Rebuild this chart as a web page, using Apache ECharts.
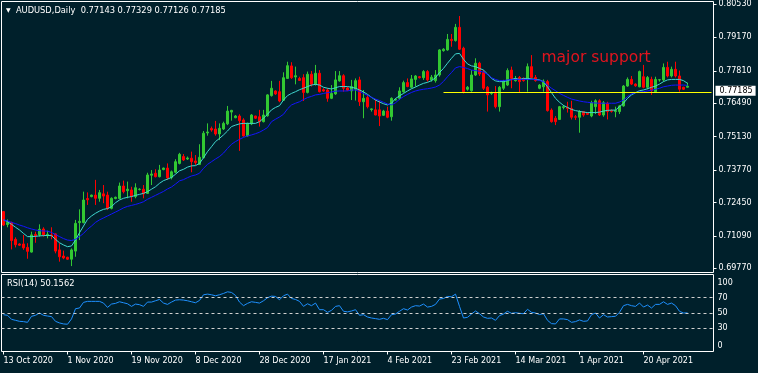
<!DOCTYPE html>
<html>
<head>
<meta charset="utf-8">
<script src="https://cdn.jsdelivr.net/npm/echarts@6/dist/echarts.min.js"></script>
<style>
html,body{margin:0;padding:0;background:#00202b;}
#chart{width:758px;height:373px;}
</style>
</head>
<body>
<div id="chart"></div>
<script>
// ---------- data ----------
const symbolName = 'AUDUSD,Daily';
const tickLabels = ['13 Oct 2020','1 Nov 2020','19 Nov 2020','8 Dec 2020','28 Dec 2020','17 Jan 2021','4 Feb 2021','23 Feb 2021','14 Mar 2021','1 Apr 2021','20 Apr 2021'];
const priceTicks = [0.80530,0.79170,0.77810,0.76490,0.75130,0.73770,0.72450,0.71090,0.69770];
const rsiTicks = [100,70,50,30,0];
const rsiLevels = [70,50,30];
const supportLevel = 0.7695;
const supportStartIndex = 110;
const annotation = {text:'major support', index:134, price:0.7833};
const closedDays = ['2020-12-25','2021-01-01'];
const firstDay = '2020-10-13';
const categoryCount = 178;

const opens = [.7208,.7155,.7163,.7095,.7076,.7076,.7062,.7043,.7115,.7113,
.7137,.7110,.7113,.7117,.7052,.7027,.7022,.7014,.7047,.7163,
.7163,.7261,.7269,.7275,.7262,.7280,.7275,.7221,.7261,.7261,
.7312,.7293,.7296,.7269,.7298,.7299,.7282,.7356,.7364,.7350,
.7379,.7385,.7347,.7368,.7404,.7432,.7422,.7425,.7414,.7400,
.7427,.7528,.7546,.7544,.7524,.7544,.7565,.7613,.7590,.7597,
.7581,.7516,.7565,.7597,.7594,.7574,.7598,.7680,.7699,.7696,
.7661,.7750,.7801,.7756,.7750,.7753,.7693,.7767,.7726,.7771,
.7704,.7703,.7669,.7687,.7740,.7761,.7711,.7699,.7706,.7744,
.7655,.7672,.7623,.7622,.7622,.7600,.7617,.7594,.7662,.7669,
.7696,.7733,.7714,.7746,.7757,.7753,.7778,.7744,.7741,.7764,
.7863,.7866,.7909,.7904,.7958,.7873,.7706,.7700,.7764,.7812,
.7774,.7714,.7689,.7689,.7635,.7710,.7723,.7784,.7741,.7754,
.7750,.7746,.7798,.7754,.7710,.7716,.7737,.7621,.7588,.7583,
.7632,.7632,.7628,.7594,.7592,.7615,.7608,.7597,.7635,.7659,
.7601,.7649,.7619,.7615,.7615,.7638,.7719,.7746,.7727,.7716,
.7757,.7714,.7746,.7696,.7744,.7744,.7795,.7760,.7787,.7760,
.7714,.77143];
const highs = [.7210,.7176,.7167,.7103,.7079,.7113,.7079,.7126,.7126,.7156,
.7144,.7130,.7144,.7119,.7079,.7049,.7024,.7058,.7174,.7217,
.7289,.7286,.7277,.7337,.7296,.7316,.7289,.7266,.7269,.7326,
.7334,.7330,.7309,.7323,.7303,.7316,.7366,.7377,.7380,.7398,
.7387,.7404,.7375,.7421,.7447,.7442,.7432,.7452,.7438,.7482,
.7536,.7567,.7554,.7577,.7567,.7574,.7638,.7622,.7601,.7604,
.7588,.7570,.7605,.7598,.7622,.7622,.7686,.7740,.7702,.7740,
.7775,.7818,.7816,.7798,.7757,.7767,.7778,.7780,.7805,.7784,
.7710,.7710,.7723,.7780,.7780,.7767,.7715,.7744,.7750,.7757,
.7703,.7683,.7628,.7665,.7660,.7622,.7635,.7673,.7669,.7714,
.7741,.7750,.7764,.7764,.7760,.7784,.7784,.7764,.7784,.7869,
.7873,.7931,.7931,.7972,.8004,.7879,.7719,.7784,.7832,.7818,
.7784,.7719,.7696,.7719,.7719,.7744,.7791,.7798,.7760,.7760,
.7754,.7811,.7845,.7764,.7727,.7746,.7744,.7628,.7597,.7638,
.7642,.7655,.7659,.7601,.7621,.7615,.7611,.7659,.7665,.7665,
.7658,.7655,.7624,.7635,.7642,.7723,.7754,.7760,.7730,.7782,
.7805,.7760,.7757,.7757,.7746,.7811,.7818,.7798,.7818,.7782,
.7716,.77329];
const lows = [.7149,.7144,.7054,.7062,.7068,.7052,.7016,.7041,.7081,.7106,
.7106,.7099,.7095,.7038,.7004,.7014,.7011,.6986,.7024,.7092,
.7160,.7235,.7266,.7235,.7248,.7242,.7214,.7217,.7258,.7258,
.7282,.7262,.7248,.7262,.7294,.7262,.7280,.7316,.7347,.7347,
.7376,.7337,.7339,.7364,.7400,.7414,.7418,.7368,.7398,.7398,
.7425,.7517,.7533,.7517,.7499,.7540,.7560,.7578,.7588,.7455,
.7513,.7513,.7560,.7585,.7554,.7571,.7594,.7676,.7683,.7653,
.7658,.7748,.7748,.7726,.7740,.7658,.7689,.7717,.7721,.7693,
.7696,.7655,.7666,.7683,.7737,.7696,.7699,.7662,.7660,.7638,
.7588,.7628,.7615,.7600,.7556,.7597,.7588,.7578,.7660,.7662,
.7692,.7714,.7710,.7717,.7750,.7744,.7737,.7737,.7733,.7757,
.7859,.7863,.7879,.7900,.7866,.7689,.7700,.7696,.7760,.7760,
.7703,.7615,.7683,.7628,.7615,.7703,.7719,.7710,.7737,.7692,
.7737,.7696,.7750,.7737,.7706,.7696,.7615,.7570,.7560,.7581,
.7624,.7611,.7583,.7581,.7529,.7594,.7601,.7592,.7605,.7597,
.7594,.7583,.7611,.7592,.7605,.7635,.7716,.7723,.7716,.7714,
.7710,.7706,.7683,.7692,.7737,.7737,.7754,.7754,.7754,.7696,
.7703,.77126];
const closes = [.7153,.7163,.7090,.7073,.7071,.7060,.7046,.7113,.7109,.7136,
.7113,.7115,.7109,.7047,.7024,.7019,.7014,.7052,.7160,.7168,
.7255,.7256,.7275,.7262,.7285,.7271,.7221,.7262,.7266,.7312,
.7289,.7299,.7269,.7305,.7299,.7280,.7357,.7361,.7350,.7377,
.7385,.7345,.7370,.7411,.7441,.7418,.7426,.7411,.7407,.7429,
.7527,.7532,.7540,.7524,.7547,.7567,.7617,.7620,.7597,.7578,
.7516,.7567,.7601,.7588,.7574,.7601,.7683,.7710,.7687,.7658,
.7753,.7802,.7753,.7761,.7742,.7693,.7767,.7726,.7771,.7696,
.7699,.7669,.7689,.7744,.7761,.7710,.7702,.7717,.7741,.7655,
.7669,.7635,.7626,.7601,.7597,.7617,.7592,.7669,.7665,.7699,
.7733,.7717,.7748,.7760,.7753,.7778,.7744,.7755,.7764,.7866,
.7869,.7909,.7904,.7958,.7869,.7696,.7714,.7764,.7812,.7768,
.7710,.7683,.7692,.7635,.7714,.7737,.7782,.7750,.7750,.7737,
.7741,.7798,.7754,.7741,.7723,.7737,.7619,.7574,.7574,.7635,
.7635,.7628,.7592,.7592,.7615,.7601,.7604,.7651,.7659,.7601,
.7651,.7615,.7616,.7619,.7638,.7719,.7746,.7727,.7720,.7778,
.7714,.7754,.7700,.7746,.7745,.7795,.7760,.7787,.7760,.7706,
.7706,.77185];
const maFast = [.7174,.7167,.7156,.7144,.7133,.7119,.7106,.7106,.7107,.7109,
.7110,.7111,.7110,.7095,.7081,.7072,.7065,.7068,.7092,.7122,
.7149,.7176,.7190,.7201,.7210,.7217,.7220,.7228,.7244,.7255,
.7262,.7266,.7269,.7274,.7278,.7282,.7289,.7299,.7309,.7323,
.7334,.7340,.7347,.7360,.7374,
.7380,.7389,.7394,.7395,.7404,.7427,.7452,.7472,.7493,.7506,
.7520,.7536,.7554,.7560,.7565,.7567,.7567,.7567,.7567,.7574,
.7588,.7604,.7622,.7632,.7639,.7662,.7680,.7689,.7696,.7704,
.7710,.7717,.7723,.7726,.7723,.7714,.7710,.7707,.7712,.7717,
.7717,.7717,
.7714,.7710,.7703,.7695,.7685,.7673,.7662,.7654,.7647,.7642,
.7649,.7668,.7679,.7689,.7699,.7708,.7715,.7723,.7730,.7734,
.7741,.7753,.7774,.7791,.7812,.7832,.7850,.7852,.7828,.7809,
.7801,.7798,.7791,.7784,.7768,.7750,.7740,.7737,.7737,.7741,
.7746,.7750,
.7746,.7750,.7750,.7748,.7746,.7744,.7737,.7716,.7692,.7669,
.7653,.7640,.7632,.7624,.7619,.7616,.7613,.7611,.7611,.7611,
.7613,.7617,.7620,.7621,.7621,.7635,.7649,.7669,.7683,.7692,
.7700,.7703,.7708,.7714,.7719,.7727,.7737,.7744,.7746,.7746,
.7746,.7741,.7730];
const maSlow = [.7174,.7170,.7164,.7159,.7153,.7148,.7142,.7137,.7133,.7130,
.7129,.7128,.7123,.7114,.7106,.7098,.7092,.7090,.7095,.7106,
.7119,.7136,.7149,.7164,.7174,.7182,.7190,.7198,.7206,.7214,
.7223,.7229,.7233,.7237,.7242,.7248,.7258,.7266,.7274,.7282,
.7290,.7300,.7308,.7320,.7333,
.7338,.7346,.7353,.7357,.7364,.7384,.7400,.7411,.7422,.7432,
.7446,.7465,.7482,.7493,.7502,.7510,.7516,.7520,.7525,.7531,
.7540,.7550,.7574,.7584,.7593,.7604,.7626,.7642,.7649,.7655,
.7664,.7672,.7677,.7683,.7685,.7689,.7692,.7695,.7698,.7699,
.7699,.7699,
.7703,.7703,.7696,.7689,.7681,.7673,.7666,.7660,.7653,.7646,
.7642,.7651,.7665,.7676,.7685,.7693,.7699,.7703,.7706,.7708,
.7711,.7715,.7723,.7738,.7757,.7774,.7793,.7798,.7795,.7790,
.7784,.7782,.7779,.7776,.7767,.7753,.7746,.7741,.7741,.7744,
.7745,.7746,
.7746,.7746,.7746,.7746,.7745,.7742,.7737,.7723,.7710,.7700,
.7689,.7681,.7673,.7666,.7662,.7658,.7655,.7653,.7651,.7650,
.7649,.7649,.7649,.7649,.7649,.7654,.7662,.7676,.7687,.7692,
.7695,.7696,.7699,.7702,.7706,.7710,.7716,.7719,.7722,.7723,
.7723,.7723,.7722];
const rsi = [47.8,47.0,41.8,40.5,39.2,38.8,37.9,45.7,47.0,50.0,
47.0,46.1,45.3,39.2,37.1,35.8,35.4,42.3,55.6,56.5,
63.8,65.1,65.1,65.1,65.1,62.9,57.3,61.6,62.5,64.6,
63.3,62.0,58.6,61.6,60.8,58.6,64.2,64.2,65.9,67.6,
62.9,61.2,64.2,66.8,67.2,66.8,65.9,64.6,63.3,66.3,
73.7,74.5,73.7,72.4,73.7,75.4,77.5,76.7,72.8,64.2,
59.5,62.5,64.6,63.8,62.9,65.9,69.8,71.9,71.5,67.2,
72.4,74.5,68.9,67.6,65.1,58.6,62.0,59.5,62.9,54.3,
54.3,50.9,53.4,58.6,59.5,52.2,51.5,52.6,54.3,47.0,
47.8,44.8,43.5,42.7,41.8,43.1,41.4,47.8,48.7,52.2,
55.6,53.9,57.7,59.5,59.0,61.6,57.7,58.6,61.2,68.1,
68.9,71.5,71.1,74.5,58.6,43.5,44.4,48.7,52.6,49.1,
44.8,43.1,43.5,40.5,46.6,48.7,52.2,49.6,50.4,49.6,
49.1,54.8,50.9,50.0,48.0,49.1,40.5,36.2,35.8,42.3,
42.3,41.4,37.9,38.8,41.0,39.2,39.7,47.8,50.0,43.5,
47.8,44.8,45.3,45.7,50.9,59.5,61.2,59.5,58.6,62.9,
57.7,60.3,56.5,61.2,61.2,64.6,61.2,62.9,59.5,52.2,
50.0,50.1562];

// ---------- categories (calendar: Sun-Fri sessions) ----------
const MONTHS = ['Jan','Feb','Mar','Apr','May','Jun','Jul','Aug','Sep','Oct','Nov','Dec'];
function buildCategories(n){
  const out = [];
  const d = new Date(firstDay + 'T00:00:00Z');
  while (out.length < n){
    const iso = d.toISOString().slice(0,10);
    if (d.getUTCDay() !== 6 && closedDays.indexOf(iso) < 0){
      out.push(d.getUTCDate() + ' ' + MONTHS[d.getUTCMonth()] + ' ' + d.getUTCFullYear());
    }
    d.setUTCDate(d.getUTCDate() + 1);
  }
  return out;
}
const categories = buildCategories(categoryCount);

// ---------- styles ----------
const BG = '#00202b';
const FONT = 'DejaVu Sans';
const UP = '#32c832';
const DOWN = '#ff0000';
const last = opens.length - 1;
const header = '{t|\u25BC}  ' + symbolName + '  ' +
  [opens[last], highs[last], lows[last], closes[last]].map(v => v.toFixed(5)).join(' ');
const rsiTitle = 'RSI(14) ' + rsi[rsi.length - 1].toFixed(4);
const showTick = (i, v) => tickLabels.indexOf(v) >= 0;

const chart = echarts.init(document.getElementById('chart'), null, {renderer:'canvas'});
chart.setOption({
  backgroundColor: BG,
  animation: false,
  textStyle: {fontFamily: FONT},
  title: [
    {text: header, left: 6, top: 5, padding: 0,
     textStyle: {color:'#ffffff', fontSize: 8.3, fontWeight:'normal', fontFamily: FONT, lineHeight: 11,
       rich: {t: {fontSize: 6, color:'#ffffff', fontFamily: FONT}}}},
    {text: rsiTitle, left: 7, top: 278.5, padding: 0,
     textStyle: {color:'#ffffff', fontSize: 8.3, fontWeight:'normal', fontFamily: FONT, lineHeight: 11}}
  ],
  grid: [
    {left: 1.5, top: 1.5, width: 712, height: 271, show: true, borderColor: '#ffffff', borderWidth: 1, backgroundColor: 'transparent'},
    {left: 1.5, top: 274.5, width: 712, height: 77, show: true, borderColor: '#ffffff', borderWidth: 1, backgroundColor: 'transparent'}
  ],
  xAxis: [
    {type: 'category', gridIndex: 0, data: categories, show: false},
    {type: 'category', gridIndex: 1, data: categories,
     axisLine: {show: false},
     axisTick: {show: true, alignWithLabel: true, interval: showTick, length: 3, lineStyle: {color: '#ffffff'}},
     axisLabel: {interval: showTick, align: 'left', color: '#ffffff', fontSize: 8, margin: 5, fontFamily: FONT},
     splitLine: {show: false}}
  ],
  yAxis: [
    {type: 'value', gridIndex: 0, position: 'right', min: 0.69599, max: 0.80632, scale: true,
     splitLine: {show: false}, axisLine: {show: false},
     axisTick: {show: true, length: 3, lineStyle: {color: '#ffffff'}, customValues: priceTicks},
     axisLabel: {customValues: priceTicks, formatter: v => v.toFixed(5), color: '#ffffff', fontSize: 8, margin: 5, fontFamily: FONT}},
    {type: 'value', gridIndex: 1, position: 'right', min: 0, max: 100,
     splitLine: {show: false}, axisLine: {show: false}, axisTick: {show: false, customValues: rsiTicks},
     axisLabel: {customValues: rsiTicks, color: '#ffffff', fontSize: 8, margin: 4, fontFamily: FONT,
       formatter: v => v === 100 ? '{t|100}' : (v === 0 ? '{b|0}' : String(v)),
       rich: {t: {padding: [16,0,0,0], color:'#ffffff', fontSize: 8, fontFamily: FONT},
              b: {padding: [0,0,12,0], color:'#ffffff', fontSize: 8, fontFamily: FONT}}}}
  ],
  series: [
    {type: 'candlestick', xAxisIndex: 0, yAxisIndex: 0, barWidth: 2,
     data: opens.map((o, i) => [o, closes[i], lows[i], highs[i]]),
     itemStyle: {color: UP, color0: DOWN, borderColor: UP, borderColor0: DOWN, borderWidth: 1},
     markLine: {silent: true, symbol: ['none','none'], animation: false,
       data: [
         [{coord: [categories[supportStartIndex], supportLevel], lineStyle: {color: '#ffff00', width: 1, type: 'solid'}, label: {show: false}},
          {coord: [categories[categories.length - 1], supportLevel]}],
         {yAxis: closes[last], lineStyle: {color: 'rgba(0,0,0,0)', width: 0, type: 'solid'},
          label: {show: true, position: 'end', distance: 2, formatter: closes[last].toFixed(5),
                  backgroundColor: '#ffffff', color: '#000000', fontSize: 8, fontFamily: FONT,
                  padding: [1,3,0,4], lineHeight: 9, opacity: 1}}
       ]},
     markPoint: {silent: true, animation: false,
       data: [{coord: [categories[annotation.index], annotation.price], symbol: 'circle', symbolSize: 0.01,
               itemStyle: {color: 'rgba(0,0,0,0)'},
               label: {show: true, position: 'right', distance: 2, formatter: annotation.text,
                       color: '#e0141e', fontSize: 15.5, fontFamily: FONT}}]}
    },
    {type: 'line', xAxisIndex: 0, yAxisIndex: 0, data: maFast, symbol: 'none', silent: true,
     lineStyle: {color: '#40d8d0', width: 1}},
    {type: 'line', xAxisIndex: 0, yAxisIndex: 0, data: maSlow, symbol: 'none', silent: true,
     lineStyle: {color: '#1414ff', width: 1}},
    {type: 'line', xAxisIndex: 1, yAxisIndex: 1, data: rsi, symbol: 'none', silent: true,
     lineStyle: {color: '#1e90ff', width: 1},
     markLine: {silent: true, symbol: ['none','none'], label: {show: false},
       lineStyle: {color: '#d0d0d0', type: [3,3], width: 1},
       data: rsiLevels.map(v => ({yAxis: v}))}}
  ]
});
</script>
</body>
</html>
